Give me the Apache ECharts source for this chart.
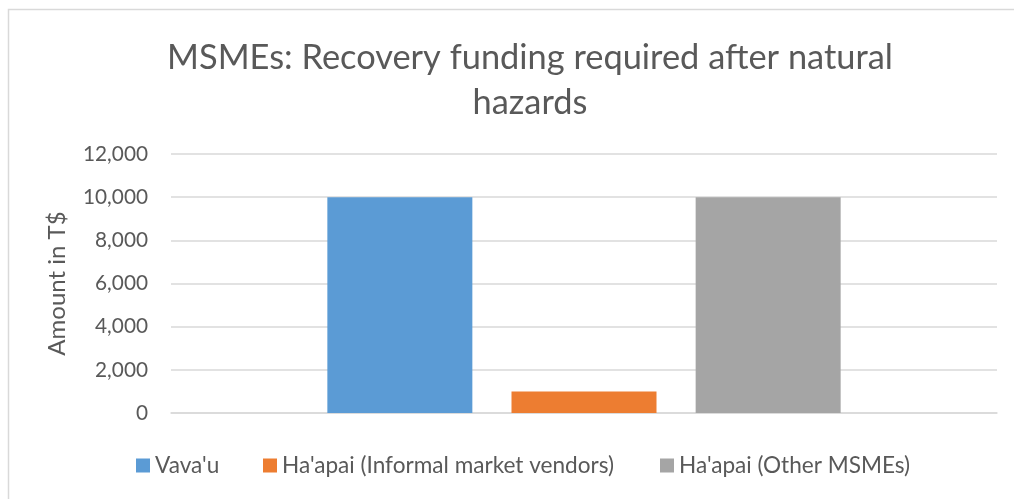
<!DOCTYPE html>
<html>
<head>
<meta charset="utf-8">
<script src="https://cdn.jsdelivr.net/npm/echarts@6/dist/echarts.min.js"></script>
<style>
  html, body { margin: 0; padding: 0; background: #fff; }
  #chart { width: 1014px; height: 499px; }
</style>
</head>
<body>
<div id="chart"></div>
<script>
// one empty category, three series
const categories = ['']
const seriesNames = ["Vava'u", "Ha'apai (Informal market vendors)", "Ha'apai (Other MSMEs)"]
const vavau = [10000]
const haapaiInformal = [1000]
const haapaiOther = [10000]
const colors = ['#5B9BD5', '#ED7D31', '#A5A5A5']

const fontName = 'Lato'
const font = 'Lato, "Open Sans", sans-serif'

// pick a font size so a string comes out about as wide as in the original
const ctx = document.createElement('canvas').getContext('2d')
function fitSize(text, width) {
    ctx.font = '100px ' + fontName
    return Math.round(100 * width / ctx.measureText(text).width * 10) / 10
}

const titleSize = fitSize('MSMEs: Recovery funding required after natural', 726)
const legendSize = fitSize(seriesNames[1], 332)
const tickSize = fitSize('12,000', 65)
const nameSize = fitSize('Amount in T$', 144)

const legendLefts = [136, 263, 660]

let chart = echarts.init(document.getElementById('chart'))
chart.setOption({
    animation: false,
    color: colors,
    title: {
        text: 'MSMEs: Recovery funding required after natural\nhazards',
        left: 525,
        top: 30,
        textAlign: 'center',
        textStyle: {
            fontFamily: font,
            fontSize: titleSize,
            fontWeight: 'normal',
            color: '#595959',
            lineHeight: 45
        }
    },
    legend: seriesNames.map((n, i) => ({
        data: [n],
        top: 454,
        left: legendLefts[i],
        itemWidth: 14,
        itemHeight: 14,
        icon: 'rect',
        padding: 0,
        textStyle: { fontFamily: font, fontSize: legendSize, color: '#595959' }
    })),
    grid: {
        left: 171,
        right: 17,
        top: 154,
        bottom: 86
    },
    xAxis: {
        type: 'category',
        data: categories,
        axisTick: { show: false },
        axisLabel: { show: false },
        axisLine: { lineStyle: { color: '#d9d9d9', width: 1.5 } }
    },
    yAxis: {
        type: 'value',
        min: 0,
        max: 12000,
        interval: 2000,
        name: 'Amount in T$',
        nameLocation: 'middle',
        nameGap: 171 - 57.5 - nameSize / 2,
        nameTextStyle: { fontFamily: font, fontSize: nameSize, color: '#595959' },
        axisLine: { show: false },
        axisTick: { show: false },
        axisLabel: {
            fontFamily: font,
            fontSize: tickSize,
            color: '#595959',
            margin: 23,
            formatter: v => v.toLocaleString('en-US')
        },
        splitLine: { lineStyle: { color: '#d9d9d9', width: 1.5 } }
    },
    series: [
        { name: seriesNames[0], type: 'bar', data: vavau, barWidth: 145, barGap: '27%' },
        { name: seriesNames[1], type: 'bar', data: haapaiInformal, barWidth: 145, barGap: '27%' },
        { name: seriesNames[2], type: 'bar', data: haapaiOther, barWidth: 145, barGap: '27%' }
    ],
    graphic: [{
        type: 'rect',
        shape: { x: 8.5, y: 9.5, width: 1040, height: 500 },
        style: { fill: 'none', stroke: '#d9d9d9', lineWidth: 1.5 },
        silent: true
    }]
})
</script>
</body>
</html>
